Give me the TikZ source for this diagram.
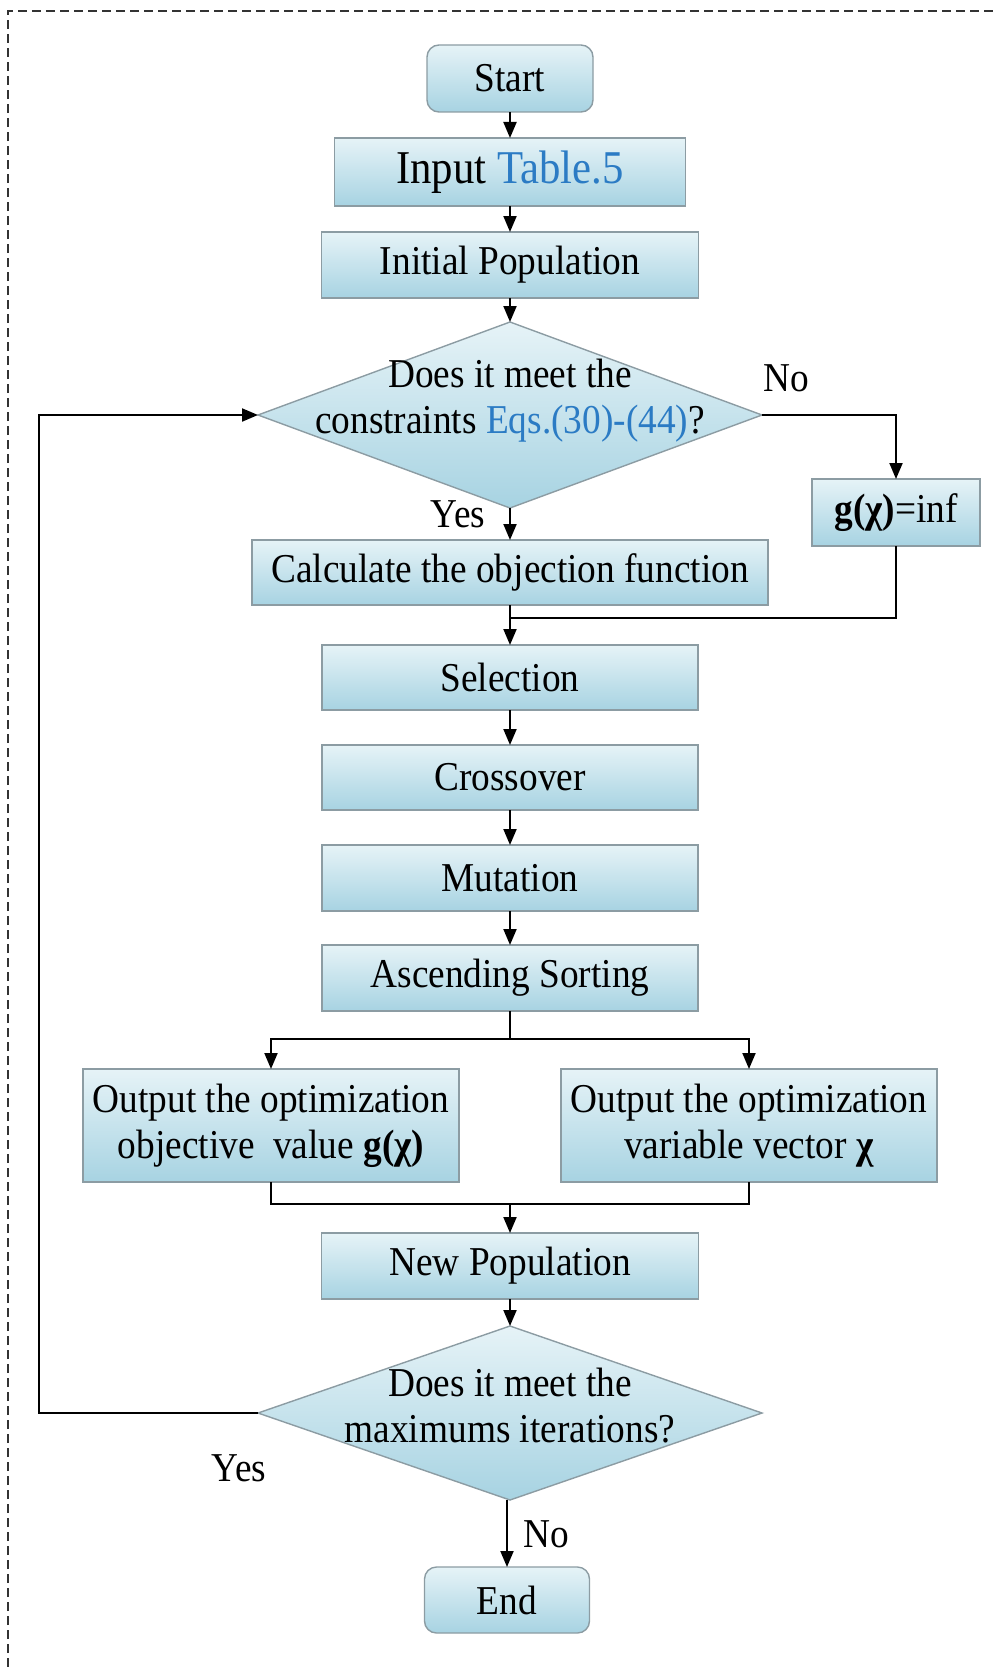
\documentclass[tikz,border=0pt]{standalone}
\usepackage{fontspec}
\setmainfont{Liberation Serif}[FakeStretch=0.91]
\usetikzlibrary{shapes.geometric,arrows.meta,calc}
\definecolor{boxline}{HTML}{8C9CA3}
\definecolor{boxtop}{HTML}{E6F3F7}
\definecolor{boxbot}{HTML}{A7D3E2}
\definecolor{refblue}{HTML}{2B7BC4}
\tikzset{
  box/.style={draw=boxline, line width=1.4pt, top color=boxtop, bottom color=boxbot,
    inner sep=0pt, align=center, text=black, outer sep=0pt},
  term/.style={box, rounded corners=12pt},
  dia/.style={diamond, draw=boxline, line width=1.4pt, top color=boxtop, bottom color=boxbot,
    minimum width=504pt, minimum height=186pt, inner sep=0pt, outer sep=0pt},
  arr/.style={line width=2pt, -{Triangle[length=16pt,width=13pt]}},
  ln/.style={line width=2pt},
  lbl/.style={inner sep=0pt, align=center}
}
\begin{document}
\begin{tikzpicture}[x=1pt,y=-1pt,font=\fontsize{41}{46}\selectfont]
\useasboundingbox (0,0) rectangle (998,1667);
\draw[line width=1.5pt, dash pattern=on 9pt off 5pt, black!80] (8,1667) -- (8,11) -- (998,11);

\node[term, minimum width=166pt, minimum height=67pt] (start) at (510,78.5) {Start};
\node[box, minimum width=351pt, minimum height=68pt, font=\fontsize{47}{52}\selectfont] (input) at (510,172) {Input \textcolor{refblue}{Table.5}};
\node[box, minimum width=377pt, minimum height=66pt] (init) at (510,265) {Initial Population};
\node[dia] (d1) at (510,415) {};
\node[lbl] (d1t) at (510,401) {Does it meet the\\constraints \textcolor{refblue}{Eqs.(30)-(44)}?};
\node[box, minimum width=168pt, minimum height=67pt] (gbox) at (896,512.5) {\textbf{g(χ)}=inf};
\node[box, minimum width=516pt, minimum height=65pt] (calc) at (510,572.5) {Calculate the objection function};
\node[box, minimum width=376pt, minimum height=65pt] (sel) at (510,677.5) {Selection};
\node[box, minimum width=376pt, minimum height=65pt] (cross) at (510,777.5) {Crossover};
\node[box, minimum width=376pt, minimum height=66pt] (mut) at (510,878) {Mutation};
\node[box, minimum width=376pt, minimum height=66pt] (asc) at (510,978) {Ascending Sorting};
\node[box, minimum width=376pt, minimum height=113pt] (out1) at (271,1125.5) {Output the optimization\\objective\ \ value \textbf{g(χ)}};
\node[box, minimum width=376pt, minimum height=113pt] (out2) at (749,1125.5) {Output the optimization\\variable vector \textbf{χ}};
\node[box, minimum width=377pt, minimum height=66pt] (newp) at (510,1266) {New Population};
\node[dia, minimum height=174pt] (d2) at (510,1413) {};
\node[lbl] (d2t) at (510,1406) {Does it meet the\\maximums iterations?};
\node[term, minimum width=165pt, minimum height=66pt] (end) at (507,1600) {End};

\node[lbl] (lno1) at (786,378) {No};
\node[lbl] (lyes1) at (458,514) {Yes};
\node[lbl] (lyes2) at (239,1468) {Yes};
\node[lbl] (lno2) at (546,1534) {No};

\coordinate (j1) at (510,618);
\coordinate (s1) at (510,1039);
\coordinate (j2) at (510,1204);
\coordinate (lp) at (39,1413);

\draw[arr] (start) -- (input);
\draw[arr] (input) -- (init);
\draw[arr] (init) -- (d1.north);
\draw[arr] (d1.east) -| (gbox.north);
\draw[arr] (d1.south) -- (calc.north);
\draw[ln] (calc.south) -- (j1);
\draw[ln] (gbox.south) |- (j1);
\draw[arr] (j1) -- (sel.north);
\draw[arr] (sel) -- (cross);
\draw[arr] (cross) -- (mut);
\draw[arr] (mut) -- (asc);
\draw[ln] (asc.south) -- (s1);
\draw[arr] (s1) -| (out1.north);
\draw[arr] (s1) -| (out2.north);
\draw[ln] (out1.south) |- (j2);
\draw[ln] (out2.south) |- (j2);
\draw[arr] (j2) -- (newp.north);
\draw[arr] (newp) -- (d2.north);
\draw[arr] (d2.west) -- (lp) |- (d1.west);
\draw[arr] (end.north |- d2.south) -- (end.north);
\end{tikzpicture}
\end{document}
